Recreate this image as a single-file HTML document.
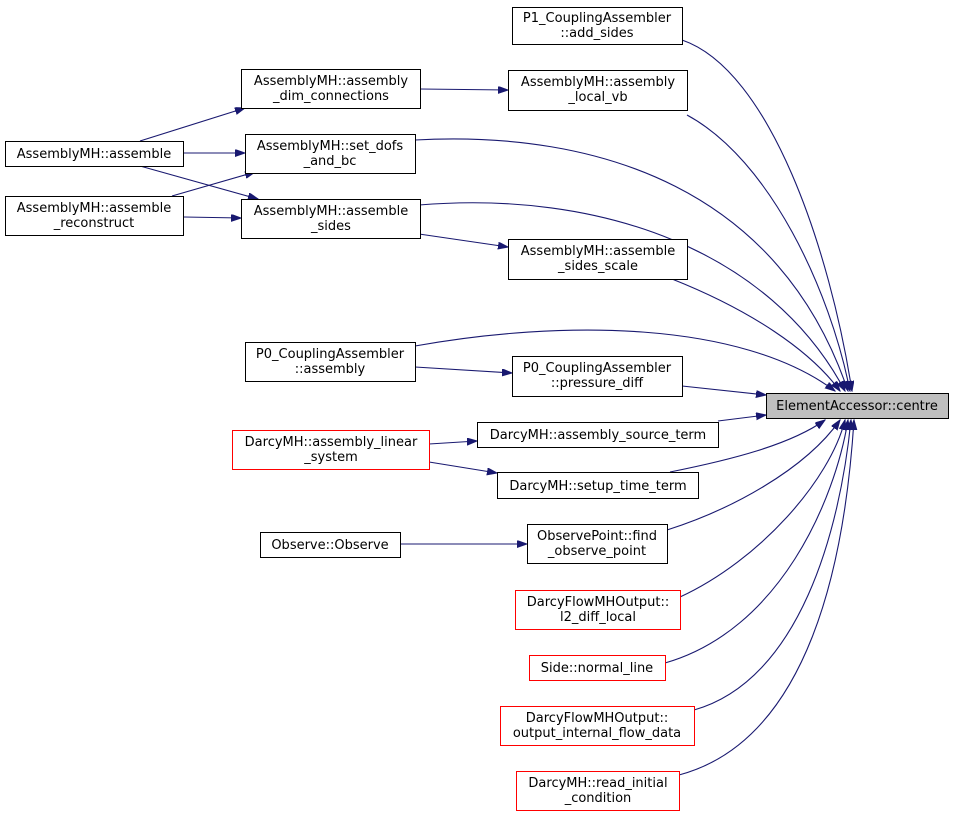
<!DOCTYPE html>
<html><head><meta charset="utf-8"><style>
html,body{margin:0;padding:0;background:#fff;}
svg{display:block}
text{font-family:"DejaVu Sans","Liberation Sans",sans-serif;font-size:13px;fill:#000;text-anchor:middle}
.e{fill:none;stroke:#191970;stroke-width:1.1}
.n{fill:#fff;stroke:#000;stroke-width:1}
.r{fill:#fff;stroke:#ff0000;stroke-width:1}
</style></head><body>
<svg width="955" height="819" viewBox="0 0 955 819">
<defs><marker id="a" markerUnits="userSpaceOnUse" markerWidth="11" markerHeight="8" refX="10" refY="3.5" orient="auto"><path d="M0,0 L10,3.5 L0,7 z" fill="#191970" stroke="#191970"/></marker></defs>
<g marker-end="url(#a)">
<path class="e" d="M682,40 C770,70 830,250 852,391"/>
<path class="e" d="M687,115 C770,160 830,290 850,391"/>
<path class="e" d="M415,140 C600,130 780,190 848,391"/>
<path class="e" d="M419,205 C600,190 770,250 845,391"/>
<path class="e" d="M672,279 C750,310 810,350 840,391"/>
<path class="e" d="M415,346 C560,320 740,320 835,391"/>
<path class="e" d="M682,386 L766,395"/>
<path class="e" d="M718,421 L766,415"/>
<path class="e" d="M670,472 C730,460 790,445 825,420"/>
<path class="e" d="M667,530 C730,510 805,470 840,420"/>
<path class="e" d="M680,597 C760,560 830,480 845,420"/>
<path class="e" d="M665,663 C780,630 835,500 848,420"/>
<path class="e" d="M694,710 C800,680 840,530 851,420"/>
<path class="e" d="M679,775 C810,740 845,560 854,420"/>
<path class="e" d="M420,89 L508,90"/>
<path class="e" d="M140,141 L245,108"/>
<path class="e" d="M184,153 L245,153"/>
<path class="e" d="M140,166 L258,199"/>
<path class="e" d="M172,196 L255,172"/>
<path class="e" d="M184,217 L241,218"/>
<path class="e" d="M419,234 L508,247"/>
<path class="e" d="M415,367 L512,373"/>
<path class="e" d="M429,444 L477,441"/>
<path class="e" d="M429,462 L497,473"/>
<path class="e" d="M400,544 L527,544"/>
</g>
<rect class="n" x="512.5" y="7.5" width="170" height="37"/><text x="597" y="22">P1_CouplingAssembler</text><text x="597" y="37">::add_sides</text>
<rect class="n" x="508.5" y="70.5" width="179" height="40"/><text x="598" y="86">AssemblyMH::assembly</text><text x="598" y="101">_local_vb</text>
<rect class="n" x="241.5" y="69.5" width="179" height="39"/><text x="331" y="85">AssemblyMH::assembly</text><text x="331" y="100">_dim_connections</text>
<rect class="n" x="245.5" y="134.5" width="170" height="39"/><text x="330" y="150">AssemblyMH::set_dofs</text><text x="330" y="165">_and_bc</text>
<rect class="n" x="5.5" y="141.5" width="178" height="25"/><text x="94" y="158">AssemblyMH::assemble</text>
<rect class="n" x="5.5" y="196.5" width="178" height="39"/><text x="94" y="212">AssemblyMH::assemble</text><text x="94" y="227">_reconstruct</text>
<rect class="n" x="241.5" y="199.5" width="179" height="39"/><text x="331" y="215">AssemblyMH::assemble</text><text x="331" y="230">_sides</text>
<rect class="n" x="508.5" y="239.5" width="179" height="40"/><text x="598" y="255">AssemblyMH::assemble</text><text x="598" y="270">_sides_scale</text>
<rect class="n" x="245.5" y="342.5" width="170" height="39"/><text x="330" y="358">P0_CouplingAssembler</text><text x="330" y="373">::assembly</text>
<rect class="n" x="512.5" y="356.5" width="170" height="40"/><text x="597" y="372">P0_CouplingAssembler</text><text x="597" y="387">::pressure_diff</text>
<rect x="766.5" y="393.5" width="182" height="25" fill="#bfbfbf" stroke="#000"/><text x="857" y="410">ElementAccessor::centre</text>
<rect class="n" x="477.5" y="422.5" width="241" height="25"/><text x="598" y="439">DarcyMH::assembly_source_term</text>
<rect class="r" x="232.5" y="430.5" width="197" height="39"/><text x="331" y="446">DarcyMH::assembly_linear</text><text x="331" y="461">_system</text>
<rect class="n" x="497.5" y="472.5" width="201" height="26"/><text x="598" y="490">DarcyMH::setup_time_term</text>
<rect class="n" x="260.5" y="532.5" width="140" height="25"/><text x="330" y="549">Observe::Observe</text>
<rect class="n" x="527.5" y="524.5" width="140" height="39"/><text x="597" y="540">ObservePoint::find</text><text x="597" y="555">_observe_point</text>
<rect class="r" x="515.5" y="590.5" width="165" height="39"/><text x="598" y="606">DarcyFlowMHOutput::</text><text x="598" y="621">l2_diff_local</text>
<rect class="r" x="529.5" y="655.5" width="136" height="25"/><text x="597" y="672">Side::normal_line</text>
<rect class="r" x="500.5" y="706.5" width="194" height="39"/><text x="597" y="722">DarcyFlowMHOutput::</text><text x="597" y="737">output_internal_flow_data</text>
<rect class="r" x="516.5" y="771.5" width="163" height="39"/><text x="598" y="787">DarcyMH::read_initial</text><text x="598" y="802">_condition</text>
</svg>
</body></html>
